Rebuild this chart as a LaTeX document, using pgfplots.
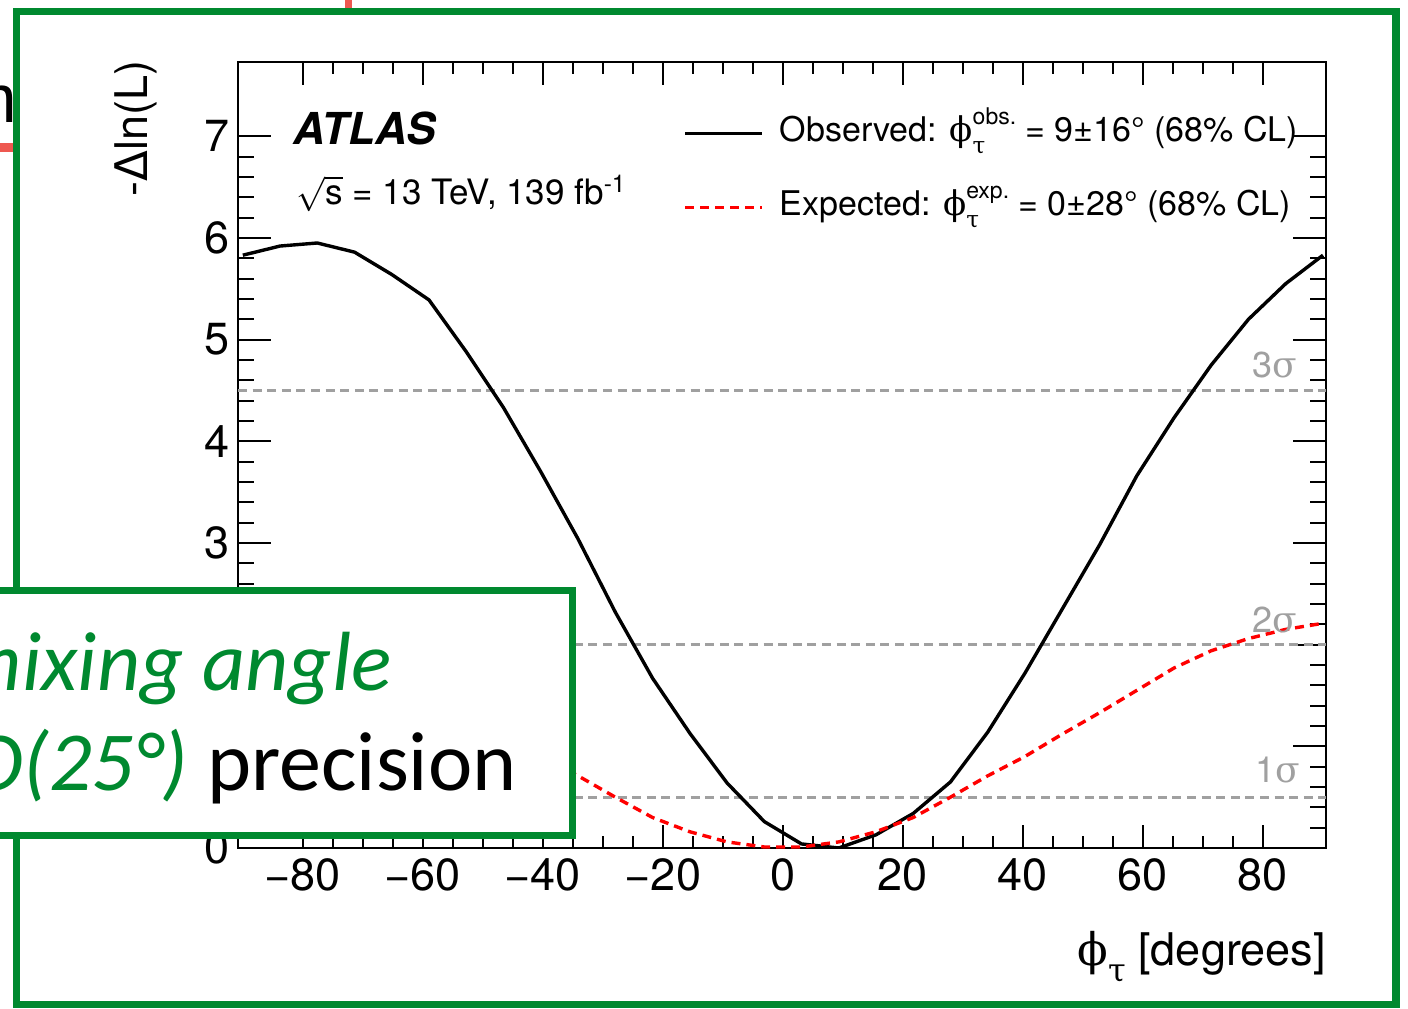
\documentclass[border=0pt]{standalone}
\usepackage{fontspec}
\setmainfont{TeX Gyre Heros}
\newfontfamily\greek{DejaVu Serif}
\newfontfamily\dvs{DejaVu Sans}
\newfontfamily\carlito{Carlito}
\newfontfamily\arial{Liberation Sans}
\usepackage{pgfplots}
\pgfplotsset{compat=1.18}
\definecolor{slidegreen}{RGB}{0,137,47}
\definecolor{slidered}{RGB}{238,88,80}
\definecolor{sigmagray}{RGB}{160,160,160}
\newcommand{\supsub}[2]{{\fontsize{11.5}{11.5}\selectfont
 \setbox0=\hbox{#1}\setbox2=\hbox{\greek #2}%
 \dimen0=\wd0 \ifdim\wd2>\dimen0 \dimen0=\wd2\fi
 \rlap{\raise8.5pt\copy0}\rlap{\lower6pt\copy2}\kern\dimen0}}
\begin{document}
\begin{tikzpicture}[x=0.5pt,y=0.5pt]
\useasboundingbox (0,0) rectangle (1408,1008);
\clip (0,0) rectangle (1408,1008);
% slide background
\node[anchor=base east, inner sep=0pt, font=\arial\fontsize{34}{34}\selectfont] at (18,885) {m};
\fill[slidered] (0,856) rectangle (16,865);
\fill[slidered] (345,1000) rectangle (352,1010);
\fill[white] (16,4) rectangle (1396,996);
\draw[slidegreen, line width=3.75pt] (16.5,3.5) rectangle (1396,996.5);

% y ticks axis
\begin{axis}[at={(119pt,80pt)}, anchor=south west, scale only axis,
  width=544pt, height=393pt,
  xmin=-90.8, xmax=90.5, ymin=0, ymax=7.73,
  axis line style={line width=1.3pt},
  xtick=\empty,
  ytick={0,1,2,3,4,5,6,7},
  minor y tick num=4,
  tick align=inside,
  major tick length=16.5pt, minor tick length=8pt,
  tick style={line width=1pt, black},
  /pgf/number format/assume math mode=true,
  yticklabel style={font=\fontsize{22.5}{22.5}\selectfont, inner sep=0pt, xshift=-4pt},
]
\end{axis}

\begin{axis}[at={(119pt,80pt)}, anchor=south west, scale only axis,
  width=544pt, height=393pt,
  xmin=-90.8, xmax=90.5, ymin=0, ymax=7.73,
  axis line style={line width=1.3pt},
  ytick=\empty,
  xtick={-80,-60,-40,-20,0,20,40,60,80},
  xticklabels={−80,−60,−40,−20,0,20,40,60,80},
  minor x tick num=3,
  tick align=inside,
  major tick length=11.5pt, minor tick length=6pt,
  tick style={line width=1pt, black},
  /pgf/number format/assume math mode=true,
  xticklabel style={font=\fontsize{22.5}{22.5}\selectfont, inner sep=0pt, yshift=-5pt},
  legend cell align=left,
  legend image code/.code={\draw[#1] (0pt,0pt) -- (38.5pt,0pt);},
  legend style={at={(0.409,0.935)}, anchor=north west, draw=none, fill=none,
    inner sep=0pt, row sep=17pt, column sep=8pt,
    font=\fontsize{17}{17}\selectfont,
    nodes={inner sep=0pt, text height=14pt, text depth=6pt}},
]
% reference lines
\addplot[sigmagray, line width=1.6pt, dash pattern=on 4.5pt off 2.8pt, forget plot] coordinates {(-90.8,0.5) (90.5,0.5)};
\addplot[sigmagray, line width=1.6pt, dash pattern=on 4.5pt off 2.8pt, forget plot] coordinates {(-90.8,2) (90.5,2)};
\addplot[sigmagray, line width=1.6pt, dash pattern=on 4.5pt off 2.8pt, forget plot] coordinates {(-90.8,4.5) (90.5,4.5)};
% observed
\addplot[black, line width=1.7pt] coordinates {
(-90,5.83) (-83.79,5.92) (-77.59,5.95) (-71.38,5.86) (-65.17,5.64) (-58.97,5.39)
(-52.76,4.88) (-46.55,4.33) (-40.34,3.70) (-34.14,3.04) (-27.93,2.32) (-21.72,1.67)
(-15.52,1.13) (-9.31,0.64) (-3.10,0.26) (3.10,0.04) (9.31,0.0) (15.52,0.13)
(21.72,0.34) (27.93,0.65) (34.14,1.14) (40.34,1.72) (46.55,2.35) (52.76,2.98)
(58.97,3.66) (65.17,4.23) (71.38,4.75) (77.59,5.20) (83.79,5.55) (90,5.83)};
\addlegendentry{Observed: {\greek ϕ}\supsub{obs.}{τ} = 9±16° (68\% CL)}
% expected
\addplot[red, line width=1.7pt, dash pattern=on 4.5pt off 3pt] coordinates {
(-90,2.21) (-83.79,2.15) (-77.59,2.06) (-71.38,1.94) (-65.17,1.77) (-58.97,1.55)
(-52.76,1.33) (-46.55,1.12) (-40.34,0.90) (-34.14,0.71) (-27.93,0.50) (-21.72,0.30)
(-15.52,0.16) (-9.31,0.06) (-3.10,0.01) (3.10,0.01) (9.31,0.06) (15.52,0.16)
(21.72,0.30) (27.93,0.50) (34.14,0.71) (40.34,0.90) (46.55,1.12) (52.76,1.33)
(58.97,1.55) (65.17,1.77) (71.38,1.94) (77.59,2.06) (83.79,2.15) (90,2.21)};
\addlegendentry{Expected: {\greek ϕ}\supsub{exp.}{τ} = 0±28° (68\% CL)}
\end{axis}

% texts
\node[anchor=base west, inner sep=0pt, font=\bfseries\itshape\fontsize{22}{22}\selectfont] at (293,863) {ATLAS};
\node[anchor=base west, inner sep=0pt, font=\fontsize{17.5}{17.5}\selectfont] at (296,803) {$\sqrt{\hbox{s}}$ = 13 TeV, 139 fb\textsuperscript{-1}};
\node[anchor=base west, inner sep=0pt, text=sigmagray, font=\fontsize{18}{18}\selectfont] at (1252,630) {3{\greek σ}};
\node[anchor=base west, inner sep=0pt, text=sigmagray, font=\fontsize{18}{18}\selectfont] at (1252,376) {2{\greek σ}};
\node[anchor=base west, inner sep=0pt, text=sigmagray, font=\fontsize{18}{18}\selectfont] at (1255,226) {1{\greek σ}};
\node[rotate=90, anchor=base east, inner sep=0pt, font=\fontsize{22.5}{22.5}\selectfont] at (147,948) {-{\dvs Δ}ln(L)};
\node[anchor=base east, inner sep=0pt, font=\fontsize{22.5}{22.5}\selectfont] at (1326,43) {{\greek ϕ}\lower8pt\hbox{\fontsize{16}{16}\selectfont\greek τ}\ [degrees]};

% overlay box
\draw[slidegreen, line width=3.5pt, fill=white] (-20,172.5) rectangle (572.5,417.5);
\node[anchor=base east, inner sep=0pt, text=slidegreen, font=\carlito\itshape\fontsize{42}{42}\selectfont] at (392,318) {mixing angle};
\node[anchor=base east, inner sep=0pt, font=\carlito\fontsize{42}{42}\selectfont] at (517,218) {{\color{slidegreen}\itshape O(25°)} precision};
\end{tikzpicture}
\end{document}
